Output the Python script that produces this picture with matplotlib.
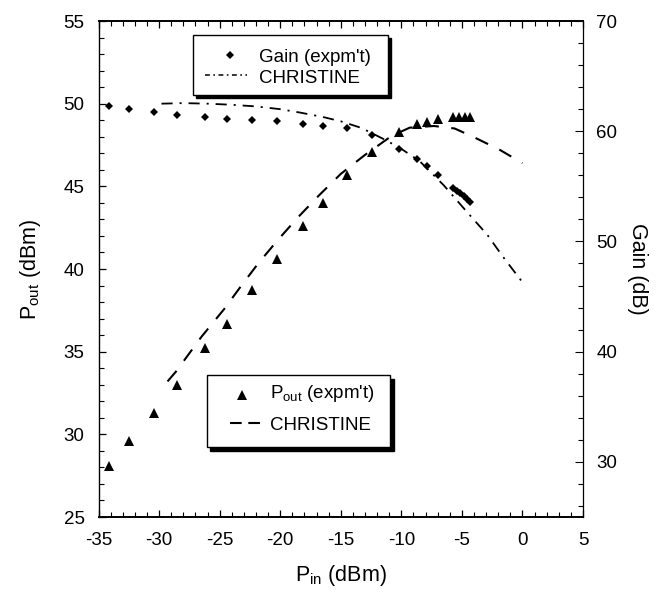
import matplotlib
matplotlib.use("Agg")
import matplotlib.pyplot as plt
from matplotlib.patches import Rectangle
from matplotlib.lines import Line2D
from matplotlib.ticker import MultipleLocator, FixedLocator
from matplotlib import transforms

plt.rcParams['font.family'] = ['Liberation Sans', 'DejaVu Sans']
plt.rcParams['mathtext.fontset'] = 'custom'
plt.rcParams['mathtext.rm'] = 'Liberation Sans'
plt.rcParams['mathtext.it'] = 'Liberation Sans'
plt.rcParams['axes.unicode_minus'] = False
plt.rcParams['lines.scale_dashes'] = False

# Measured output power (dBm) vs input power (dBm)
pout_pin = [-34.1, -32.45, -30.4, -28.5, -26.2, -24.4, -22.3, -20.3, -18.1, -16.5,
            -14.5, -12.45, -10.15, -8.7, -7.9, -6.95, -5.76, -5.24, -4.75, -4.33]
pout_exp = [28.1, 29.6, 31.3, 33.0, 35.2, 36.7, 38.7, 40.6, 42.6, 44.0,
            45.7, 47.1, 48.3, 48.75, 48.9, 49.1, 49.2, 49.2, 49.2, 49.2]

# Measured gain (dB) vs input power (dBm)
gain_pin = [-34.1, -32.45, -30.4, -28.5, -26.2, -24.4, -22.3, -20.3, -18.1, -16.5,
            -14.5, -12.45, -10.15, -8.7, -7.9, -6.95,
            -5.7, -5.42, -5.14, -4.86, -4.58, -4.3]
gain_exp = [62.3, 62.05, 61.75, 61.5, 61.3, 61.1, 61.0, 60.9, 60.65, 60.5,
            60.25, 59.65, 58.4, 57.5, 56.8, 56.0,
            54.85, 54.6, 54.35, 54.1, 53.85, 53.6]

# CHRISTINE simulation: output power
sim_pout_pin = [-29.3, -28.6, -26.5, -24.6, -23.2, -21.8, -20.2, -18.5, -16.8, -15.0,
                -13.0, -10.8, -9.3, -7.3, -5.6, -3.8, -1.85, 0.0]
sim_pout = [33.2, 33.8, 35.9, 37.6, 39.0, 40.35, 41.75, 43.15, 44.45, 45.75,
            46.9, 48.05, 48.55, 48.65, 48.5, 47.9, 47.2, 46.4]

# CHRISTINE simulation: gain
sim_gain_pin = [-29.8, -28.0, -26.0, -24.0, -22.0, -20.0, -18.4, -16.5, -15.0, -13.3,
                -11.3, -10.0, -8.5, -6.5, -4.6, -2.9, -1.6, 0.0]
sim_gain = [62.5, 62.55, 62.5, 62.4, 62.25, 62.0, 61.7, 61.3, 60.9, 60.3,
            59.2, 58.4, 57.3, 55.1, 52.7, 50.6, 48.6, 46.3]

x_ticks = [-35, -30, -25, -20, -15, -10, -5, 0, 5]
pout_ticks = [25, 30, 35, 40, 45, 50, 55]
gain_ticks = [30, 40, 50, 60, 70]

DASH = (0, (10, 9))
DASHDOT = (0, (8, 5, 1.5, 5))

fig = plt.figure(figsize=(6.6, 5.95), dpi=100)
ax = fig.add_axes([98.5 / 660, 1 - 517 / 595, 484.5 / 660, 496 / 595])
ax2 = ax.twinx()

ax.set_xlim(-35, 5)
ax.set_ylim(25, 55)
ax2.set_ylim(25, 70)

ax.plot(sim_pout_pin, sim_pout, color='black', lw=1.5, linestyle=DASH)
ax.plot(pout_pin, pout_exp, linestyle='none', marker='^', ms=7, mew=0,
        color='black', clip_on=False)
ax2.plot(sim_gain_pin, sim_gain, color='black', lw=1.3, linestyle=DASHDOT)
ax2.plot(gain_pin, gain_exp, linestyle='none', marker='D', ms=4.5, mew=0,
         color='black', clip_on=False)

ax.xaxis.set_major_locator(FixedLocator(x_ticks))
ax.xaxis.set_minor_locator(MultipleLocator(1))
ax.yaxis.set_major_locator(FixedLocator(pout_ticks))
ax.yaxis.set_minor_locator(MultipleLocator(1))
ax2.yaxis.set_major_locator(FixedLocator(gain_ticks))
ax2.yaxis.set_minor_locator(MultipleLocator(2))

ax.tick_params(axis='x', which='both', direction='in', top=True, labelsize=13.5,
               pad=11)
ax.tick_params(axis='y', which='both', direction='in', right=False, labelsize=13.5,
               pad=10)
ax.tick_params(which='major', length=5, width=0.9)
ax.tick_params(which='minor', length=3.5, width=0.8)
ax2.tick_params(axis='y', which='both', direction='in', labelsize=13.5, pad=9.5)
ax2.tick_params(which='major', length=5.5, width=0.8)
ax2.tick_params(which='minor', length=3.5, width=0.8)

for side in ('left', 'top', 'bottom'):
    ax2.spines[side].set_visible(False)
ax.spines['right'].set_visible(False)
ax.spines['top'].set_linewidth(1.4)
ax.spines['bottom'].set_linewidth(1.4)
ax.spines['left'].set_linewidth(1.0)
ax2.spines['right'].set_linewidth(0.9)

ax.set_xlabel(r'P$_{\rm in}$ (dBm)', fontsize=15.5, labelpad=10)
ax.set_ylabel(r'P$_{\rm out}$ (dBm)', fontsize=15.5, labelpad=15)
ax2.set_ylabel('Gain (dB)', fontsize=15.5, rotation=270, labelpad=22)


def draw_key(axis, box, rows):
    """Boxed key with a solid drop shadow, in axes-fraction coordinates."""
    x0, y0, x1, y1 = box
    shadow_tf = transforms.offset_copy(axis.transAxes, fig=fig, x=3.5, y=-3.5,
                                       units='dots')
    axis.add_patch(Rectangle((x0, y0), x1 - x0, y1 - y0, transform=shadow_tf,
                             facecolor='black', edgecolor='black', lw=1.0,
                             clip_on=False, zorder=5))
    axis.add_patch(Rectangle((x0, y0), x1 - x0, y1 - y0, transform=axis.transAxes,
                             facecolor='white', edgecolor='black', lw=1.0,
                             clip_on=False, zorder=6))
    for kind, hx, hy, tx, ty, label in rows:
        if kind[0] == 'marker':
            axis.add_line(Line2D([hx], [hy], transform=axis.transAxes,
                                 marker=kind[1], ms=kind[2], mew=0, color='black',
                                 linestyle='none', zorder=7, clip_on=False))
        else:
            axis.add_line(Line2D(hx, [hy, hy], transform=axis.transAxes,
                                 linestyle=kind[1], lw=kind[2], color='black',
                                 zorder=7, clip_on=False))
        axis.text(tx, ty, label, transform=axis.transAxes, fontsize=13.5,
                  ha='left', va='baseline', zorder=8)


draw_key(ax2, (0.195, 0.851, 0.5975, 0.972), [
    (('marker', 'D', 4.5), 0.2714, 0.9315, 0.3313, 0.918, "Gain (expm't)"),
    (('line', (0, (3.5, 2.5, 1.2, 2.5)), 1.1), [0.2198, 0.3065], 0.8911,
     0.3313, 0.8744, 'CHRISTINE'),
])

draw_key(ax, (0.2233, 0.141, 0.6026, 0.286), [
    (('marker', '^', 7), 0.2956, 0.246, 0.354, 0.2393, r"P$_{\rm out}$ (expm't)"),
    (('line', (0, (8.4, 4.8)), 1.5), [0.2714, 0.3333], 0.1895,
     0.354, 0.1754, 'CHRISTINE'),
])

fig.savefig('out.png', dpi=100, facecolor='white')
